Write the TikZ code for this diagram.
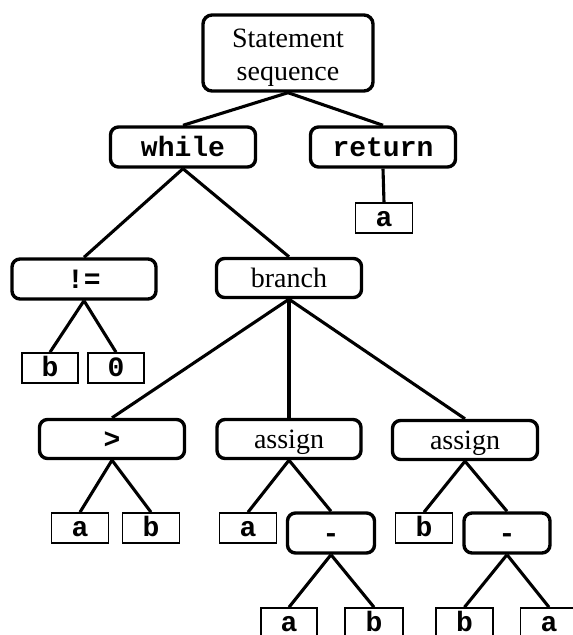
\documentclass[tikz,border=0pt]{standalone}
\usepackage{fontspec}
\setmainfont{Liberation Serif}
\setmonofont{Liberation Mono}
\begin{document}
\begin{tikzpicture}[x=1pt,y=-1pt,
  inner/.style={draw=black,line width=3.4pt,rounded corners=8pt,inner sep=0pt,
    minimum height=40pt,minimum width=145pt,align=center,
    text height=23pt,text depth=5pt,
    font=\fontsize{28}{33}\selectfont},
  code/.style={font=\fontsize{28}{33}\selectfont\ttfamily\bfseries},
  leaf/.style={draw=black,line width=1.6pt,inner sep=0pt,minimum width=57pt,
    minimum height=30pt,text height=20pt,text depth=4pt,
    font=\fontsize{28}{30}\selectfont\ttfamily\bfseries},
  edge/.style={line width=3.1pt}]
\useasboundingbox (0,0) rectangle (573,635);
\node[draw=black,line width=3.4pt,rounded corners=9pt,inner sep=0pt,
  minimum width=170pt,minimum height=76pt,align=center,
  font=\fontsize{28}{33}\selectfont] (root) at (288,53) {\rule{0pt}{27pt}Statement\\sequence};
\node[inner,code] (while) at (183,147) {while};
\node[inner,code] (ret) at (383,147) {return};
\node[leaf] (ra) at (384,218) {a};
\node[inner,code,minimum width=144pt] (neq) at (84,279) {!=};
\node[inner,minimum height=39pt] (branch) at (289,278) {branch};
\node[leaf,minimum width=56pt] (nb) at (50,368) {b};
\node[leaf,minimum width=56pt] (nz) at (116,368) {0};
\node[inner,code,minimum height=39pt] (gt) at (112,439) {>};
\node[inner,minimum height=39pt,minimum width=144pt] (as1) at (289,439) {assign};
\node[inner,minimum height=39pt] (as2) at (465,440) {assign};
\node[leaf] (ga) at (80,528) {a};
\node[leaf] (gb) at (151,528) {b};
\node[leaf] (a1a) at (248,528) {a};
\node[inner,code,minimum width=87pt] (m1) at (331,533) {-};
\node[leaf] (a2b) at (424,528) {b};
\node[inner,code,minimum width=86pt] (m2) at (507,533) {-};
\node[leaf,minimum width=56pt] (m1a) at (289,623) {a};
\node[leaf,minimum width=58pt] (m1b) at (374,623) {b};
\node[leaf,minimum width=57pt] (m2b) at (464.5,623) {b};
\node[leaf,minimum width=57pt] (m2a) at (549,623) {a};
\foreach \p/\c in {root/while,root/ret,ret/ra,while/neq,while/branch,neq/nb,neq/nz,
  branch/gt,branch/as1,branch/as2,gt/ga,gt/gb,as1/a1a,as1/m1,as2/a2b,as2/m2,
  m1/m1a,m1/m1b,m2/m2b,m2/m2a}
  \draw[edge] (\p.south) -- (\c.north);
\end{tikzpicture}
\end{document}
